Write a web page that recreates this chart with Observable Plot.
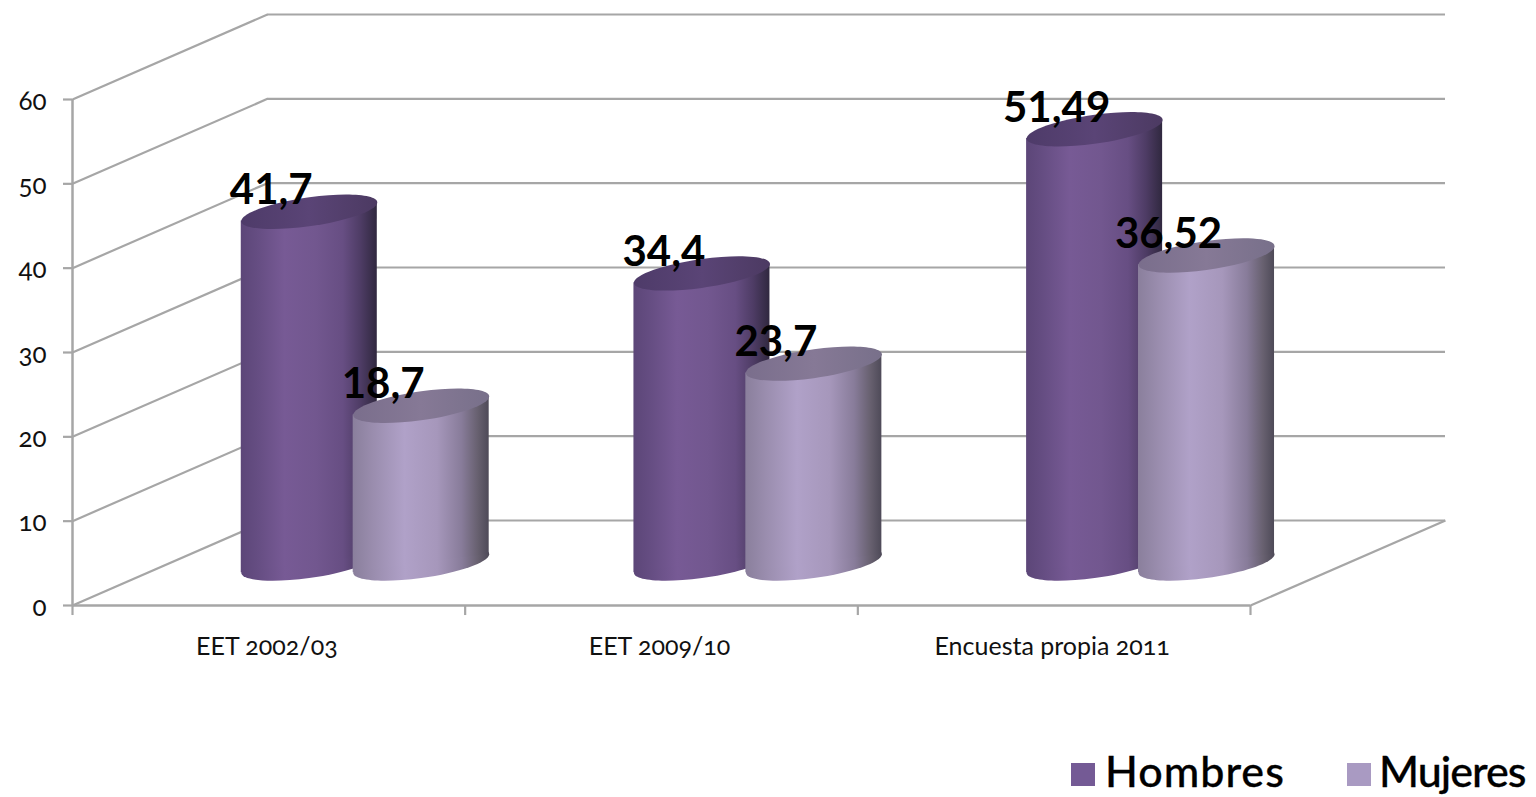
<!DOCTYPE html>
<html>
<head>
<meta charset="utf-8">
<script src="https://cdn.jsdelivr.net/npm/d3@7"></script>
<script src="https://cdn.jsdelivr.net/npm/@observablehq/plot@0.6"></script>
<style>
html,body{margin:0;padding:0;background:#fff;overflow:hidden}
svg{display:block}
#legend{position:relative;height:52px;width:1536px;font-family:Lato,sans-serif;font-size:43px;color:#000;font-weight:500;-webkit-text-stroke:0.3px #000}
#legend i{position:absolute;top:18px;width:24px;height:23px;display:block}
#legend span{position:absolute;top:0;line-height:52px;white-space:nowrap}
</style>
</head>
<body>
<div id="chart"></div>
<div id="legend"></div>
<script>
const categories = ["EET 2002/03", "EET 2009/10", "Encuesta propia 2011"];
const hombres = [41.7, 34.4, 51.49];
const mujeres = [18.7, 23.7, 36.52];
const yTicks = [0, 10, 20, 30, 40, 50, 60];
const xBoundaries = [0, 1, 2, 3];
const xLabelAt = [0.495, 1.495, 2.495];
const seriesNames = ["Hombres", "Mujeres"];
const gridColor = "#a6a6a6";
const font = "Lato, sans-serif";

// depth of the 3D box in data units
const depthX = 0.4966, depthY = 10.08;
// cylinder placement in a category (units of x)
const centers = {Hombres: 0.603, Mujeres: 0.888};
const halfWidth = 0.1732, tilt = 1.1;
const capR = 68, capB = 14.5, capShear = 9.3 / 68, liftPx = -42;

const bars = seriesNames.flatMap((s, k) => (k ? mujeres : hombres).map((v, i) => ({
  series: s, cat: i, value: v, x: i + centers[s], label: String(v).replace(".", ",")
})));
const edges = bars.flatMap(b => [-1, 1].map(e => ({
  series: b.series, id: b.series + b.cat,
  x: b.x + e * halfWidth, y1: e * tilt, y2: b.value + e * tilt
})));

// a tilted ellipse, as a symbol for the dot mark
const K = 0.5523;
const capSymbol = {
  draw(ctx, size) {
    const r = Math.sqrt(size / Math.PI);
    const P = (c, s) => [r * c, capB * s - capShear * r * c];
    const M = P(1, 0); ctx.moveTo(...M);
    const seg = (a, b, c) => ctx.bezierCurveTo(...P(...a), ...P(...b), ...P(...c));
    seg([1, K], [K, 1], [0, 1]);
    seg([-K, 1], [-1, K], [-1, 0]);
    seg([-1, -K], [-K, -1], [0, -1]);
    seg([K, -1], [1, -K], [1, 0]);
    ctx.closePath();
  }
};

function gradient(defs, id, stops) {
  const g = defs.append("linearGradient").attr("id", id).attr("x1", 0).attr("x2", 1).attr("y1", 0).attr("y2", 0);
  stops.forEach(([o, c]) => g.append("stop").attr("offset", o).attr("stop-color", c));
}
const gradientDefs = () => {
  const defs = d3.create("svg:defs");
  gradient(defs, "bodyH", [[0, "#5c4678"], [0.12, "#654d82"], [0.32, "#775a95"], [0.55, "#72578f"], [0.75, "#674e83"], [0.88, "#4e3c65"], [1, "#30283f"]]);
  gradient(defs, "bodyM", [[0, "#8a7f9c"], [0.15, "#9a8dae"], [0.38, "#b0a1c8"], [0.62, "#a697bb"], [0.8, "#887c9a"], [0.92, "#67606f"], [1, "#4e4a58"]]);
  gradient(defs, "capH", [[0, "#4e3b69"], [0.5, "#5a4476"], [1, "#4c3a62"]]);
  gradient(defs, "capM", [[0, "#7a6e8c"], [0.5, "#867996"], [1, "#78708a"]]);
  return defs.node();
};

const cylinder = (s, body, cap) => {
  const rows = bars.filter(b => b.series === s);
  return [
    Plot.dot(rows, {x: "x", y: () => 0, r: capR, symbol: capSymbol, fill: `url(#${body})`, dy: liftPx}),
    Plot.areaY(edges.filter(e => e.series === s), {x: "x", y1: "y1", y2: "y2", z: "id", fill: `url(#${body})`, dy: liftPx}),
    Plot.dot(rows, {x: "x", y: "value", r: capR, symbol: capSymbol, fill: `url(#${cap})`, dy: liftPx})
  ];
};

const chart = Plot.plot({
  width: 1536, height: 745,
  marginLeft: 72, marginRight: 286, marginTop: 0, marginBottom: 0,
  style: {background: "#fff", fontFamily: font, overflow: "visible"},
  x: {type: "linear", domain: [0, 3], range: [72, 1250], axis: null},
  y: {type: "linear", domain: [0, 60], range: [605, 99]},
  marks: [
    gradientDefs,
    // back wall
    Plot.ruleY(yTicks, {y: d => d + depthY, x1: depthX, x2: 3 + depthX, stroke: gridColor, strokeWidth: 2.2}),
    // side wall and floor edge
    Plot.link(yTicks, {x1: 0, y1: d => d, x2: depthX, y2: d => d + depthY, stroke: gridColor, strokeWidth: 2.2}),
    Plot.link([0], {x1: 3, y1: 0, x2: 3 + depthX, y2: depthY, stroke: gridColor, strokeWidth: 2.2}),
    // axes
    Plot.ruleX([0], {y1: 0, y2: 60, stroke: gridColor, strokeWidth: 2.5}),
    Plot.ruleY([0], {x1: 0, x2: 3, stroke: gridColor, strokeWidth: 2.5}),
    Plot.ruleX(xBoundaries, {y1: 0, y2: -1.19, stroke: gridColor, strokeWidth: 2.2}),
    Plot.ruleY(yTicks, {x1: 0, x2: -0.023, stroke: gridColor, strokeWidth: 2.2}),
    Plot.axisY({ticks: yTicks, tickSize: 0, tickPadding: 26, dy: 2, fill: "#111", fontSize: 26, fontVariant: "oldstyle-nums", label: null}),
    Plot.text(categories, {x: (d, i) => xLabelAt[i], y: () => 0, text: d => d, dy: 41, fontSize: 25, fill: "#111", fontVariant: "oldstyle-nums"}),
    // cylinders
    ...cylinder("Hombres", "bodyH", "capH"),
    ...cylinder("Mujeres", "bodyM", "capM"),
    // value labels
    Plot.text(bars, {x: "x", y: "value", text: "label", dx: -38, dy: -63, fontSize: 42, fontWeight: 700, fill: "#000"})
  ]
});
document.getElementById("chart").append(chart);

const swatchColors = ["#745a95", "#a99ac2"];
const swatchX = [1071, 1347], labelX = [1105, 1379], spacing = ["1px", "-1px"];
const legend = d3.select("#legend");
seriesNames.forEach((s, i) => {
  legend.append("i").style("left", swatchX[i] + "px").style("background", swatchColors[i]);
  legend.append("span").style("left", labelX[i] + "px").style("letter-spacing", spacing[i]).text(s);
});
</script>
</body>
</html>
